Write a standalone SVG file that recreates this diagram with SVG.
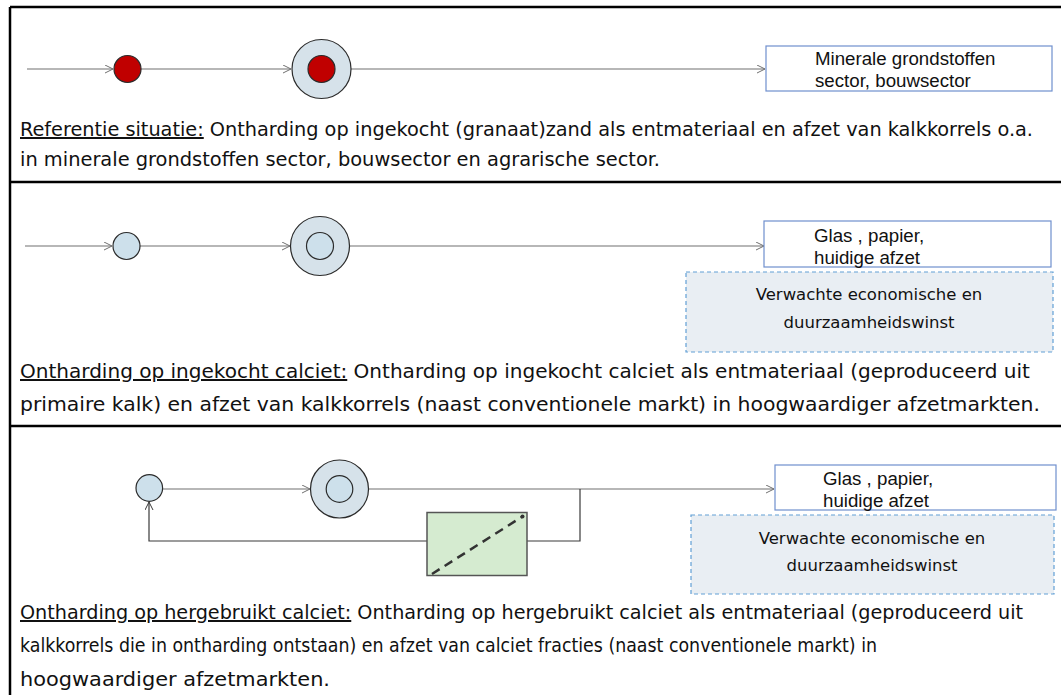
<svg xmlns="http://www.w3.org/2000/svg" width="1061" height="695" viewBox="0 0 1061 695">
  <style>
    .frame { stroke: #000; stroke-width: 2.5; fill: none; }
    .flow { stroke: #707070; stroke-width: 1.2; fill: none; }
    .loop { stroke: #3a3a3a; stroke-width: 1.2; fill: none; }
    .outer { fill: #d6e2ea; stroke: #2b2b2b; stroke-width: 1.2; }
    .inner { fill: #cde0eb; stroke: #2b2b2b; stroke-width: 1.2; }
    .red { fill: #c00000; stroke: #2b2b2b; stroke-width: 1.2; }
    .sink { fill: #fff; stroke: #6f8fce; stroke-width: 1.2; }
    .gain { fill: #e9eef3; stroke: #62a0d6; stroke-width: 1.2; stroke-dasharray: 4 3; }
    .unit { fill: #d5ebd0; stroke: #555; stroke-width: 1.5; }
    .sinktxt { font-family: "Liberation Sans", Arial, sans-serif; font-size: 18.7px; fill: #111; }
    .cap { font-family: "DejaVu Sans Condensed", "DejaVu Sans", sans-serif; font-stretch: condensed; font-size: 20px; fill: #111; }
    .gaintxt { font-family: "DejaVu Sans", sans-serif; font-size: 16.5px; fill: #111; text-anchor: middle; }
    .u { text-decoration: underline; }
  </style>
  <defs>
    <marker id="arr" markerWidth="10" markerHeight="10" refX="8" refY="4" orient="auto" markerUnits="userSpaceOnUse">
      <path d="M0,0 L8,4 L0,8" fill="none" stroke="#707070" stroke-width="1"/>
    </marker>
    <marker id="arrDark" markerWidth="10" markerHeight="10" refX="8" refY="4" orient="auto" markerUnits="userSpaceOnUse">
      <path d="M0,0 L8,4 L0,8" fill="none" stroke="#3a3a3a" stroke-width="1"/>
    </marker>
  </defs>

  <!-- table frame -->
  <g id="frame">
    <line class="frame" x1="10" y1="7" x2="1061" y2="7"/>
    <line class="frame" x1="10" y1="7" x2="10" y2="695"/>
    <line class="frame" x1="10" y1="182" x2="1061" y2="182"/>
    <line class="frame" x1="10" y1="426" x2="1061" y2="426"/>
  </g>

  <!-- connectors -->
  <g id="connectors">
    <line class="flow" x1="27" y1="69" x2="113" y2="69" marker-end="url(#arr)"/>
    <line class="flow" x1="141" y1="69" x2="291" y2="69" marker-end="url(#arr)"/>
    <line class="flow" x1="351" y1="69" x2="765" y2="69" marker-end="url(#arr)"/>

    <line class="flow" x1="25" y1="246" x2="112" y2="246" marker-end="url(#arr)"/>
    <line class="flow" x1="140" y1="246" x2="290" y2="246" marker-end="url(#arr)"/>
    <line class="flow" x1="349" y1="246" x2="764" y2="246" marker-end="url(#arr)"/>

    <line class="flow" x1="163" y1="489" x2="310" y2="489" marker-end="url(#arr)"/>
    <line class="flow" x1="368" y1="489" x2="774" y2="489" marker-end="url(#arr)"/>
    <polyline class="loop" points="580,489 580,541 527,541"/>
    <polyline class="loop" points="427,541 149,541 149,502" marker-end="url(#arrDark)"/>
  </g>

  <!-- situation 1: reference -->
  <g id="ref-seed">
    <circle class="red" cx="127.5" cy="69" r="13.5"/>
  </g>
  <g id="ref-reactor">
    <circle class="outer" cx="321.5" cy="69" r="29.5"/>
    <circle class="red" cx="321.5" cy="69" r="13.5"/>
  </g>
  <g id="ref-market">
    <rect class="sink" x="766" y="46" width="286" height="45"/>
    <text class="sinktxt" x="815" y="65">Minerale grondstoffen</text>
    <text class="sinktxt" x="815" y="87">sector, bouwsector</text>
  </g>
  <g id="ref-caption">
    <text class="cap" x="20" y="136" textLength="1013" lengthAdjust="spacingAndGlyphs"><tspan class="u">Referentie situatie:</tspan> Ontharding op ingekocht (granaat)zand als entmateriaal en afzet van kalkkorrels o.a.</text>
    <text class="cap" x="20" y="166" textLength="640" lengthAdjust="spacingAndGlyphs">in minerale grondstoffen sector, bouwsector en agrarische sector.</text>
  </g>

  <!-- situation 2: purchased calcite -->
  <g id="buy-seed">
    <circle class="inner" cx="126.5" cy="246" r="13.5"/>
  </g>
  <g id="buy-reactor">
    <circle class="outer" cx="320" cy="246" r="29.5"/>
    <circle class="inner" cx="320" cy="246" r="13.5"/>
  </g>
  <g id="buy-market">
    <rect class="sink" x="764" y="221" width="287" height="46"/>
    <text class="sinktxt" x="814" y="242">Glas , papier,</text>
    <text class="sinktxt" x="814" y="264">huidige afzet</text>
  </g>
  <g id="buy-gain">
    <rect class="gain" x="686" y="272" width="367" height="80"/>
    <text class="gaintxt" x="869" y="300">Verwachte economische en</text>
    <text class="gaintxt" x="869" y="328">duurzaamheidswinst</text>
  </g>
  <g id="buy-caption">
    <text class="cap" x="20" y="378" textLength="1010" lengthAdjust="spacingAndGlyphs"><tspan class="u">Ontharding op ingekocht calciet:</tspan> Ontharding op ingekocht calciet als entmateriaal (geproduceerd uit</text>
    <text class="cap" x="20" y="411" textLength="1020" lengthAdjust="spacingAndGlyphs">primaire kalk) en afzet van kalkkorrels (naast conventionele markt) in hoogwaardiger afzetmarkten.</text>
  </g>

  <!-- situation 3: reused calcite -->
  <g id="reuse-seed">
    <circle class="inner" cx="149.3" cy="488" r="13.3"/>
  </g>
  <g id="reuse-reactor">
    <circle class="outer" cx="339.5" cy="489" r="29"/>
    <circle class="inner" cx="339.5" cy="489" r="13.3"/>
  </g>
  <g id="reuse-unit">
    <rect class="unit" x="427" y="512.5" width="100" height="63"/>
    <line x1="432" y1="574" x2="522.5" y2="516.5" stroke="#333" stroke-width="2.5" stroke-dasharray="9 6"/>
    <circle cx="522.5" cy="516.5" r="2" fill="#333"/>
  </g>
  <g id="reuse-market">
    <rect class="sink" x="775" y="465" width="281" height="45"/>
    <text class="sinktxt" x="823" y="485">Glas , papier,</text>
    <text class="sinktxt" x="823" y="507">huidige afzet</text>
  </g>
  <g id="reuse-gain">
    <rect class="gain" x="691" y="515" width="363" height="79"/>
    <text class="gaintxt" x="872" y="544">Verwachte economische en</text>
    <text class="gaintxt" x="872" y="571">duurzaamheidswinst</text>
  </g>
  <g id="reuse-caption">
    <text class="cap" x="20" y="619" textLength="1003" lengthAdjust="spacingAndGlyphs"><tspan class="u">Ontharding op hergebruikt calciet:</tspan> Ontharding op hergebruikt calciet als entmateriaal (geproduceerd uit</text>
    <text class="cap" x="20" y="652" textLength="857" lengthAdjust="spacingAndGlyphs">kalkkorrels die in ontharding ontstaan) en afzet van calciet fracties (naast conventionele markt) in</text>
    <text class="cap" x="20" y="686" textLength="310" lengthAdjust="spacingAndGlyphs">hoogwaardiger afzetmarkten.</text>
  </g>
</svg>
